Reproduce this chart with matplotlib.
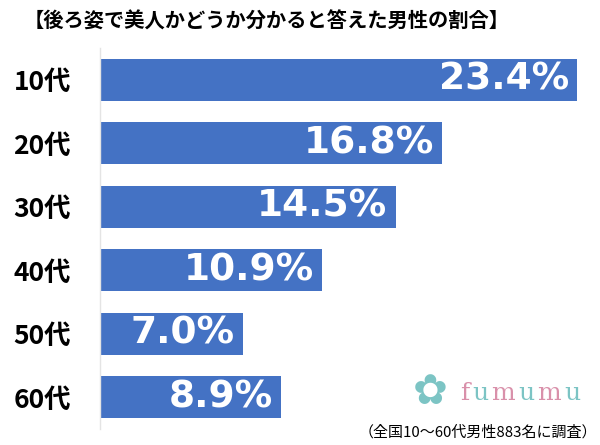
import matplotlib.pyplot as plt

categories = ['10代', '20代', '30代', '40代', '50代', '60代']
values = [23.4, 16.8, 14.5, 10.9, 7.0, 8.9]
value_labels = ['23.4%', '16.8%', '14.5%', '10.9%', '7.0%', '8.9%']

title = '【後ろ姿で美人かどうか分かると答えた男性の割合】'
note = '（全国10～60代男性883名に調査）'

jp = ['Noto Sans CJK JP', 'DejaVu Sans']


def main():
    fig = plt.figure(figsize=(6, 4.45), dpi=100)
    ax = fig.add_axes([100 / 600, 1 - 429 / 445, 477 / 600, 381 / 445])

    ax.barh(range(len(values)), values, height=0.66, color='#4472C4')
    ax.set_xlim(0, 23.4)
    ax.set_ylim(len(values) - 0.5, -0.5)

    for i, (v, lab) in enumerate(zip(values, value_labels)):
        ax.text(v - 0.4, i, lab, ha='right', va='center', color='white',
                fontsize=27, fontweight='bold', family='DejaVu Sans')

    ax.set_yticks(range(len(categories)))
    ax.set_yticklabels(categories, family=jp, fontsize=19, fontweight='bold')
    ax.tick_params(axis='y', length=0, pad=21)
    ax.set_xticks([])
    for s in ['top', 'right', 'bottom']:
        ax.spines[s].set_visible(False)
    ax.spines['left'].set_color('#e4e4e4')
    ax.spines['left'].set_linewidth(1)

    fig.text(24 / 600, 1 - 21 / 445, title, family=jp, fontsize=14.6,
             fontweight='bold', ha='left', va='center')
    fig.text(597 / 600, 1 - 432 / 445, note, family=jp, fontsize=10.8,
             ha='right', va='center')

    # fumumu logo
    fig.text(430 / 600, 1 - 392 / 445, '✿', family='DejaVu Sans', fontsize=30,
             color='#7cc4c4', ha='center', va='center')
    letters = ['f', 'u', 'm', 'u', 'm', 'u']
    colors = ['#d990aa', '#7cc4c4', '#d990aa', '#7cc4c4', '#d990aa', '#7cc4c4']
    widths = [12, 19, 27, 19, 27, 19]
    x = 460
    for ch, c, w in zip(letters, colors, widths):
        fig.text(x / 600, 1 - 393 / 445, ch, family='DejaVu Serif', fontsize=18,
                 color=c, ha='left', va='center')
        x += w

    fig.savefig('out.png')


if __name__ == "__main__":
    main()
